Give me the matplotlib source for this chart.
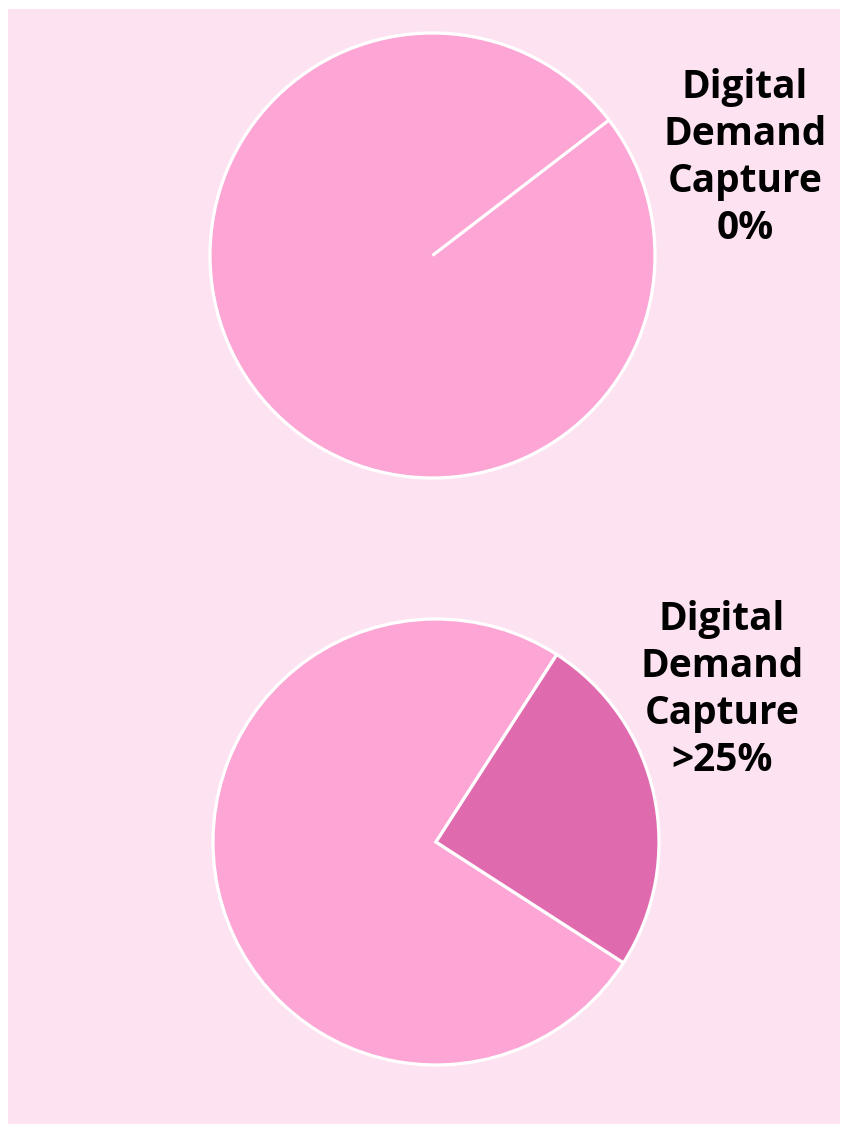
import matplotlib
matplotlib.use("Agg")
import matplotlib.pyplot as plt
from matplotlib.patches import Rectangle

# data
top_values = [100, 0]
bottom_values = [75, 25]
top_label = "Digital\nDemand\nCapture\n0%"
bottom_label = "Digital\nDemand\nCapture\n>25%"

light = "#fda5d5"
dark = "#e06aae"
bg = "#fde3f1"

W, H = 845, 1124
fig = plt.figure(figsize=(W / 100, H / 100), dpi=100)
fig.patch.set_facecolor("white")

ax = fig.add_axes([0, 0, 1, 1])
ax.add_patch(Rectangle((8, -10), 840 - 8, H - 9 + 10, facecolor=bg,
                       edgecolor="none", zorder=-5))

wp = dict(edgecolor="white", linewidth=2.3)
ax.pie(top_values, colors=[light, light], startangle=37.5,
       center=(432.5, H - 255.5), radius=222.5, wedgeprops=wp, frame=True)
ax.pie(bottom_values, colors=[light, dark], startangle=57.2,
       center=(436, H - 842), radius=223, wedgeprops=wp, frame=True)
ax.set_xlim(0, W)
ax.set_ylim(0, H)
ax.set_aspect("equal")
ax.axis("off")

font = dict(fontsize=28, fontweight="bold", family=["Open Sans", "DejaVu Sans"],
            ha="center", va="center", linespacing=1.26, color="black")
ax.text(745, H - 158, top_label, **font)
ax.text(722, H - 690, bottom_label, **font)

fig.savefig("out.png", dpi=100, facecolor=fig.get_facecolor())
